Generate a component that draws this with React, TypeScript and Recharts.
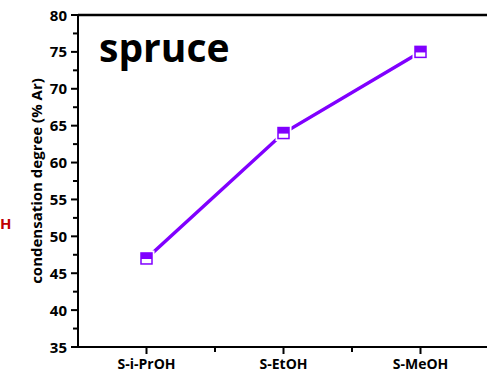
import React from "react";
import { LineChart, Line, XAxis, YAxis, ReferenceLine } from "recharts";

const categories = ["S-i-PrOH", "S-EtOH", "S-MeOH"];
const condensation = [47.0, 64.0, 75.0];
const yTicks = [35, 37.5, 40, 42.5, 45, 47.5, 50, 52.5, 55, 57.5, 60, 62.5, 65, 67.5, 70, 72.5, 75, 77.5, 80];
const xTicks = [0, 0.5, 1, 1.5, 2];

const PURPLE = "#8000FF";
const FONT = "'Open Sans', 'DejaVu Sans', sans-serif";
const AXIS_X = 78;
const PLOT_BOTTOM = 347;

const data = categories.map((c, i) => ({ x: i, name: c, value: condensation[i] }));

// half-filled square marker, white halo leaves a small gap in the line
function HalfSquare(props: any) {
  const { cx, cy } = props;
  if (cx == null || cy == null) return null;
  const s = 11;
  return (
    <g>
      <rect x={cx - 8} y={cy - 8} width={16} height={16} fill="#fff" />
      <rect x={cx - s / 2} y={cy - s / 2} width={s} height={s} fill="#fff" stroke={PURPLE} strokeWidth={1.5} />
      <rect x={cx - s / 2} y={cy - s / 2} width={s} height={s * 0.55} fill={PURPLE} />
    </g>
  );
}

function YTick(props: any) {
  const { y, payload } = props;
  const v = payload.value;
  const major = v % 5 === 0;
  return (
    <g>
      <line x1={AXIS_X} x2={AXIS_X - (major ? 7 : 5)} y1={y} y2={y} stroke="#000" strokeWidth={2} />
      {major && (
        <text x={AXIS_X - 11} y={y} dy={5.5} textAnchor="end" fontFamily={FONT} fontWeight="bold" fontSize={15} fill="#000">
          {v}
        </text>
      )}
    </g>
  );
}

function XTick(props: any) {
  const { x, payload } = props;
  const v = payload.value;
  const major = Number.isInteger(v);
  return (
    <g>
      <line x1={x} x2={x} y1={PLOT_BOTTOM} y2={PLOT_BOTTOM + (major ? 7 : 5)} stroke="#000" strokeWidth={2} />
      {major && (
        <text x={x} y={PLOT_BOTTOM + 22} textAnchor="middle" fontFamily={FONT} fontWeight="bold" fontSize={14} fill="#000">
          {categories[v]}
        </text>
      )}
    </g>
  );
}

export default function App() {
  return (
    <div style={{ position: "absolute", left: 0, top: 0, width: 487, height: 373, overflow: "hidden", background: "#fff" }}>
      <LineChart width={495} height={373} data={data} margin={{ top: 15, right: 6, bottom: 0, left: 0 }}>
        <XAxis
          type="number"
          dataKey="x"
          domain={[-0.5, 2.5]}
          ticks={xTicks}
          interval={0}
          height={26}
          tickLine={false}
          tick={<XTick />}
          axisLine={{ stroke: "#000", strokeWidth: 2 }}
        />
        <YAxis
          domain={[35, 80]}
          ticks={yTicks}
          interval={0}
          width={78}
          tickLine={false}
          tick={<YTick />}
          axisLine={{ stroke: "#000", strokeWidth: 2 }}
        />
        <ReferenceLine y={80} stroke="#000" strokeWidth={2.5} />
        <Line
          type="linear"
          dataKey="value"
          stroke={PURPLE}
          strokeWidth={3.5}
          dot={(p: any) => <HalfSquare key={p.index} {...p} />}
          isAnimationActive={false}
        />
      </LineChart>
      <svg width={487} height={373} style={{ position: "absolute", left: 0, top: 0, pointerEvents: "none" }}>
        <text
          transform="translate(42, 181) rotate(-90)"
          textAnchor="middle"
          fontFamily={FONT}
          fontWeight="bold"
          fontSize={15}
          fill="#000"
        >
          condensation degree (% Ar)
        </text>
        <text x={99} y={62} fontFamily={FONT} fontWeight="bold" fontSize={39} fill="#000">
          spruce
        </text>
        <text x={0} y={229} fontFamily={FONT} fontWeight="bold" fontSize={15} fill="#C00000">
          H
        </text>
      </svg>
    </div>
  );
}
